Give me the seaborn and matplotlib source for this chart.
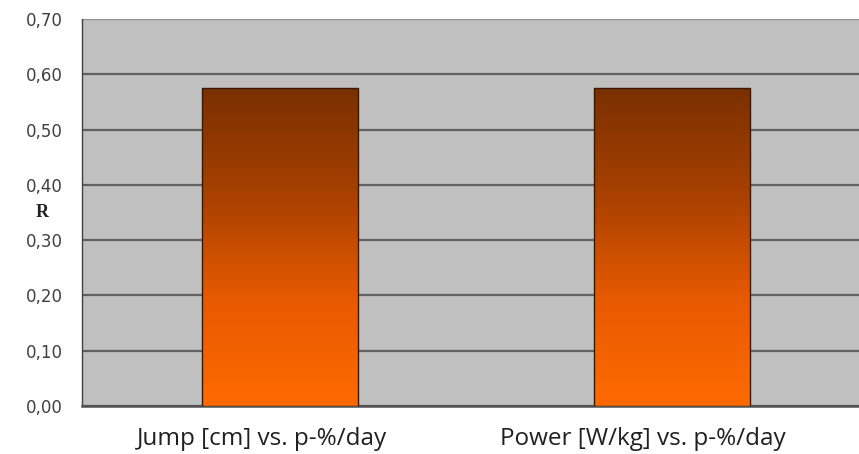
import numpy as np
import pandas as pd
import matplotlib
matplotlib.use("Agg")
import matplotlib.pyplot as plt
import matplotlib.transforms as mtransforms
import seaborn as sns
from matplotlib.colors import LinearSegmentedColormap

categories = ["Jump [cm] vs. p-%/day", "Power [W/kg] vs. p-%/day"]
values = [0.575, 0.575]
yticks = [0.0, 0.1, 0.2, 0.3, 0.4, 0.5, 0.6, 0.7]
ytick_labels = ["0,00", "0,10", "0,20", "0,30", "0,40", "0,50", "0,60", "0,70"]

sns.set_style("white")
df = pd.DataFrame({"cat": categories, "R": values})

fig = plt.figure(figsize=(8.59, 4.54), dpi=100)
ax = fig.add_axes([82/859, 48/454, 777/859, 387/454])
ax.set_facecolor("#c0c0c0")

sns.barplot(data=df, x="cat", y="R", ax=ax, width=0.4, color="#ff6600",
            edgecolor="#3a1800", linewidth=1.0, zorder=3)

# gradient fill
cmap = LinearSegmentedColormap.from_list("g", ["#ff6a00", "#e85a00", "#a84000", "#7a3000"])
grad = np.linspace(0, 1, 256).reshape(-1, 1)
for p in ax.patches:
    x0, y0 = p.get_x(), p.get_y()
    w, h = p.get_width(), p.get_height()
    im = ax.imshow(grad, cmap=cmap, extent=[x0, x0 + w, y0, y0 + h],
                   origin="lower", aspect="auto", zorder=3.5)
    im.set_clip_path(p)
    p.set_facecolor("none")
    p.set_zorder(4)
ax.set_xlim(-0.505, 1.477)
ax.set_ylim(0, 0.7)

ax.set_yticks(yticks)
ax.set_yticklabels(ytick_labels, fontsize=12, color="#404040", family="DejaVu Sans")
ax.yaxis.grid(True, color="#606060", linewidth=1.6, zorder=1)
ax.get_ygridlines()[-1].set_color("#909090")
ax.get_ygridlines()[-1].set_linewidth(1.0)
ax.set_axisbelow(True)
ax.tick_params(axis="y", direction="out", length=5, width=1, color="#404040", pad=9)
ax.tick_params(axis="x", length=0, pad=15, labelsize=17.5)
shifts = [-18, -29]
for lab, s in zip(ax.get_xticklabels(), shifts):
    lab.set_family("Open Sans")
    lab.set_color("#202020")
    lab.set_transform(lab.get_transform() + mtransforms.ScaledTranslation(s / 100, 0, fig.dpi_scale_trans))
ax.set_xticks([0.5], minor=True)
ax.tick_params(axis="x", which="minor", direction="out", length=5, width=1.5, color="#404040")

ax.set_xlabel("")
ax.set_ylabel("R", family="Liberation Serif", fontweight="bold", fontsize=13,
              rotation=0, color="#202020", va="center", ha="center")
ax.yaxis.set_label_coords(-0.0515, 0.5)

for s in ["top", "right"]:
    ax.spines[s].set_visible(False)
ax.spines["left"].set_color("#404040")
ax.spines["left"].set_linewidth(1.0)
ax.spines["bottom"].set_color("#505050")
ax.spines["bottom"].set_linewidth(1.8)

fig.savefig("out.png", dpi=100, facecolor="white")
